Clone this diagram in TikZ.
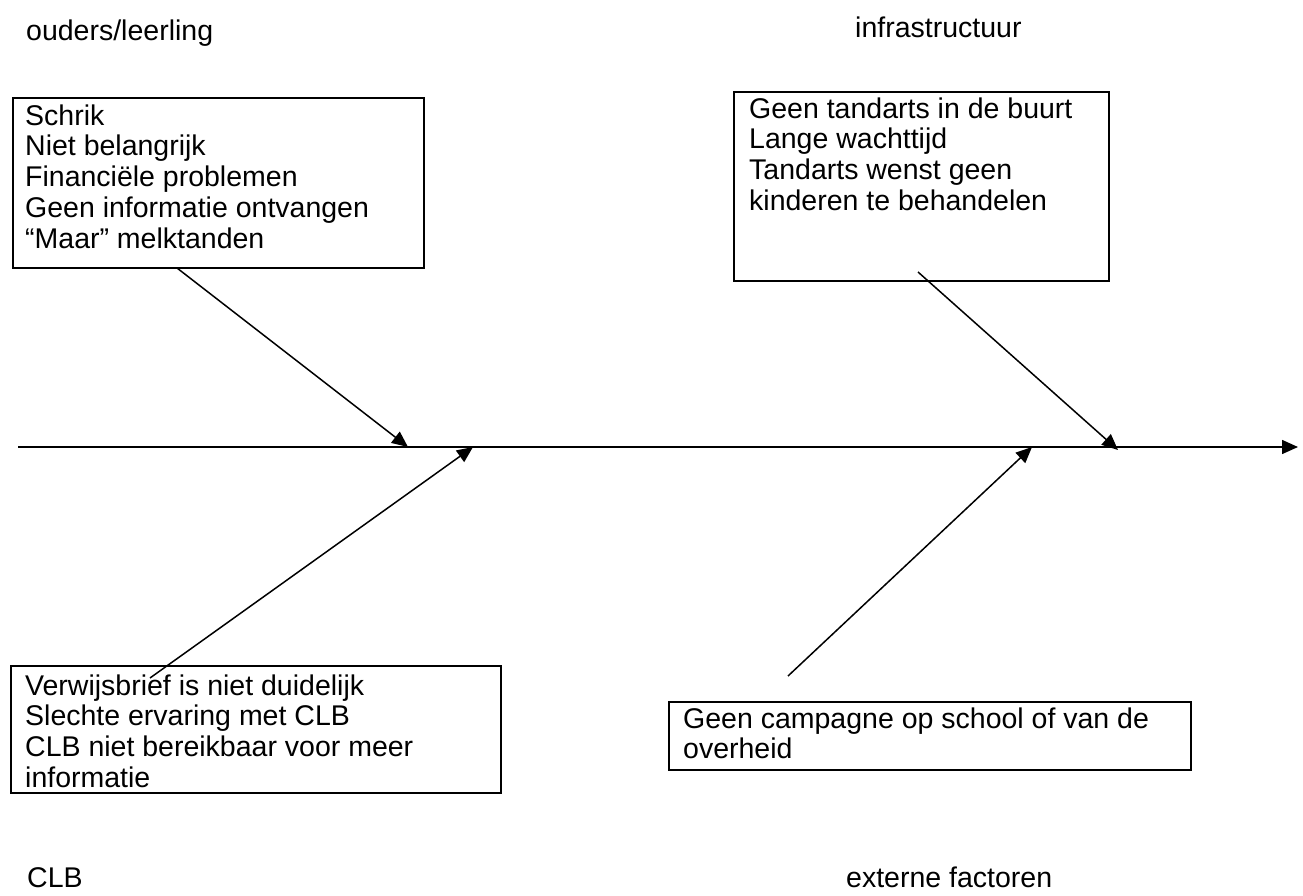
\documentclass[tikz,border=0pt]{standalone}
\usepackage{fontspec}
\setmainfont{Liberation Sans}
\newfontfamily\labfont{Liberation Sans}
\usetikzlibrary{arrows.meta}
\tikzset{
  every picture/.style={x=1pt,y=-1pt},
  boxnode/.style={draw=black, line width=2pt, inner sep=0pt, anchor=north west},
  txtnode/.style={inner sep=0pt, anchor=north west, align=left,
     font={\labfont\fontsize{28.5}{30.75}\selectfont}},
  lblnode/.style={inner sep=0pt, anchor=base west,
     font={\labfont\fontsize{28.5}{30.75}\selectfont}},
  conn/.style={line width=1.5pt, -{Triangle[length=16pt,width=14pt]}}
}
\newcommand{\topstrut}{\rule{0pt}{24pt}}
\begin{document}
\begin{tikzpicture}
\useasboundingbox (0,0) rectangle (1303,896);
\fill[white] (0,0) rectangle (1303,896);

% category labels
\node[lblnode] (lab1) at (26,41) {ouders/leerling};
\node[lblnode] (lab2) at (855,38) {infrastructuur};
\node[lblnode] (lab3) at (27,887) {CLB};
\node[lblnode] (lab4) at (846,887) {externe factoren};

% boxes
\node[boxnode, minimum width=411pt, minimum height=170pt] (box1) at (12,97) {};
\node[txtnode] (txt1) at (25,101) {\topstrut Schrik\\Niet belangrijk\\Financiële problemen\\Geen informatie ontvangen\\“Maar” melktanden};

\node[boxnode, minimum width=375pt, minimum height=189pt] (box2) at (733,91) {};
\node[txtnode] (txt2) at (749,94) {\topstrut Geen tandarts in de buurt\\Lange wachttijd\\Tandarts wenst geen\\kinderen te behandelen};

\node[boxnode, minimum width=490pt, minimum height=127pt] (box3) at (10,665) {};
\node[txtnode] (txt3) at (25,671) {\topstrut Verwijsbrief is niet duidelijk\\Slechte ervaring met CLB\\CLB niet bereikbaar voor meer\\informatie};

\node[boxnode, minimum width=522pt, minimum height=68pt] (box4) at (668,701) {};
\node[txtnode] (txt4) at (683,704) {\topstrut Geen campagne op school of van de\\overheid};

% spine
\coordinate (s0) at (18,447);
\coordinate (s1) at (1298,447);
\draw[conn] (s0) -- (s1);

% branch ends
\coordinate (a1) at (177,268);
\coordinate (h1) at (408,447);
\coordinate (a2) at (150,678);
\coordinate (h2) at (473,447);
\coordinate (a3) at (918,272);
\coordinate (h3) at (1118,450);
\coordinate (a4) at (788,676);
\coordinate (h4) at (1032,447);

\draw[conn] (a1) -- (h1);
\draw[conn] (a2) -- (h2);
\draw[conn] (a3) -- (h3);
\draw[conn] (a4) -- (h4);
\end{tikzpicture}
\end{document}
